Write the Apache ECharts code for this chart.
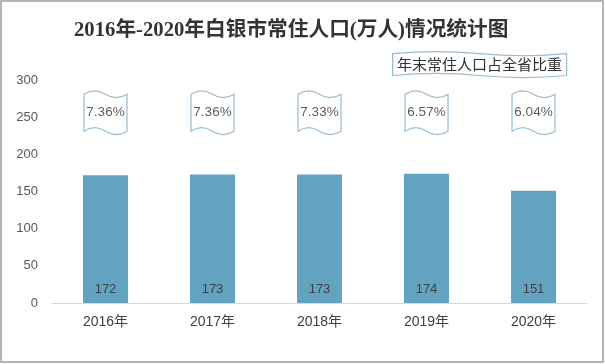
<!DOCTYPE html>
<html><head><meta charset="utf-8">
<script src="https://cdn.jsdelivr.net/npm/echarts@6/dist/echarts.min.js"></script>
<style>html,body{margin:0;padding:0;background:#fff}#c{width:605px;height:364px}</style>
</head><body><div id="c"></div>
<script>
const years = ['2016年','2017年','2018年','2019年','2020年'];
const population = [172, 173, 173, 174, 151];
const shares = ['7.36%','7.36%','7.33%','6.57%','6.04%'];
const yTicks = [0, 50, 100, 150, 200, 250, 300];
const legendName = '年末常住人口占全省比重';

const wave = 'path://M0,8 C17,-2.7 33,-2.7 50,8 C67,18.7 83,18.7 100,8 L100,92 C83,102.7 67,102.7 50,92 C33,81.3 17,81.3 0,92 Z';
const waveFlat = 'path://M0,8 C17,-2.7 33,-2.7 50,8 C67,18.7 83,18.7 100,8 L100,92 C83,102.7 67,102.7 50,92 C33,81.3 17,81.3 0,92 Z';
const FLAG_Y = 256;
const SANS = '"Liberation Sans", "Noto Sans CJK SC", sans-serif';

const chart = echarts.init(document.getElementById('c'), null, {renderer:'canvas'});
chart.setOption({
  animation:false,
  backgroundColor:'#fff',
  title:{
    text:'2016年-2020年白银市常住人口(万人)情况统计图',
    left:69, top:15,
    textStyle:{fontFamily:'"Liberation Serif", "Noto Sans CJK SC"', fontWeight:'bold', fontSize:20.7, color:'#333'}
  },
  legend:{
    data:[{name:legendName, icon:waveFlat}],
    left:392, top:51, padding:0, itemWidth:174, itemHeight:26, itemGap:0,
    symbolKeepAspect:false,
    formatter:()=>'', selectedMode:false,
    itemStyle:{color:'#fff', borderColor:'#7eaac4', borderWidth:1.2},
    textStyle:{fontSize:1}
  },
  graphic:[
    {type:'rect', shape:{x:1,y:1,width:602,height:361}, style:{fill:'none', stroke:'#b5b5b5', lineWidth:2}, silent:true},
    {type:'text', x:479.5, y:64.5, z:100, style:{text:legendName, fontSize:15, fill:'#333', align:'center', verticalAlign:'middle', fontFamily:'"Noto Sans CJK SC", sans-serif'}}
  ],
  grid:{left:52, right:18, top:80, bottom:61},
  xAxis:{
    type:'category', data:years,
    axisLine:{lineStyle:{color:'#d9d9d9', width:1}},
    axisTick:{show:false},
    axisLabel:{color:'#404040', fontSize:14, margin:12, fontFamily:SANS}
  },
  yAxis:{
    type:'value', min:yTicks[0], max:yTicks[yTicks.length-1], interval:50,
    axisLine:{show:false}, axisTick:{show:false}, splitLine:{show:false},
    axisLabel:{color:'#595959', fontSize:13, margin:14, fontFamily:SANS}
  },
  series:[
    {
      name:'常住人口', type:'bar', data:population, barWidth:'42%',
      itemStyle:{color:'#62a3c2'},
      label:{show:true, position:'insideBottom', distance:7, color:'#404040', fontSize:13, fontFamily:SANS}
    },
    {
      name:legendName, type:'scatter',
      data: shares.map((s,i)=>[years[i], FLAG_Y, s]),
      symbol:wave, symbolSize:[43,44], symbolKeepAspect:false,
      itemStyle:{color:'#fff', borderColor:'#7eaac4', borderWidth:1.2},
      label:{show:true, position:'inside', formatter:p=>p.data[2], color:'#333', fontSize:13.5, fontFamily:SANS},
      z:5
    }
  ]
});
</script></body></html>
